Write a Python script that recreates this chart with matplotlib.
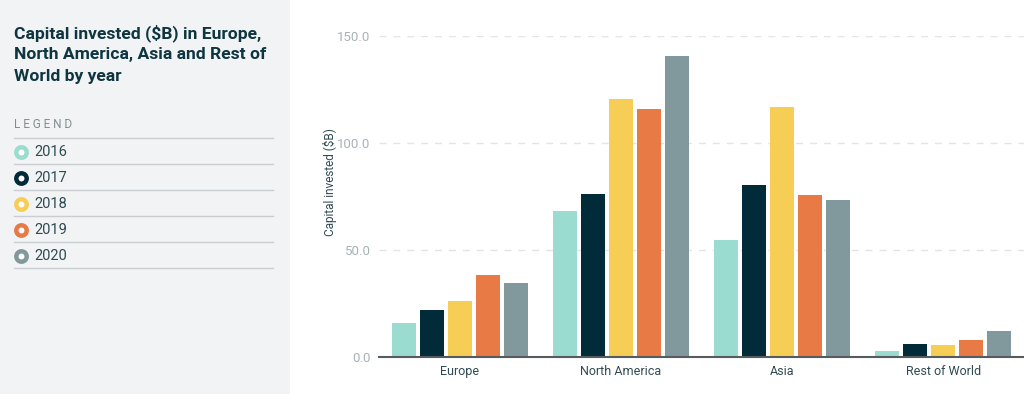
import matplotlib.pyplot as plt
import matplotlib.patches as mpatches
import numpy as np

regions = ["Europe", "North America", "Asia", "Rest of World"]
years = ["2016", "2017", "2018", "2019", "2020"]
values = {
    "2016": [15.9, 68.2, 54.5, 2.7],
    "2017": [22.1, 76.2, 80.5, 5.9],
    "2018": [26.0, 120.7, 117.0, 5.4],
    "2019": [38.2, 115.9, 75.7, 8.1],
    "2020": [34.4, 140.8, 73.5, 12.3],
}
colors = ["#9addd0", "#022b3a", "#f6ce55", "#e87a45", "#81989c"]
yticks = [0, 50, 100, 150]

W, H = 1024, 394
fig = plt.figure(figsize=(W / 100, H / 100), dpi=100)
fig.patch.set_facecolor("white")

def fx(px):
  return px / W

def fy(py):
  return 1 - py / H

# left panel background
fig.patches.append(mpatches.Rectangle((0, 0), fx(290), 1, transform=fig.transFigure,
                                      facecolor="#f2f3f5", edgecolor="none", zorder=0))

title_col = "#0f3640"
for i, line in enumerate(["Capital invested ($B) in Europe,",
                          "North America, Asia and Rest of",
                          "World by year"]):
  fig.text(fx(14), fy(33 + i * 22), line, fontsize=12.6, fontweight="bold",
           family="Roboto", color=title_col, va="center", ha="left")

fig.text(fx(14), fy(125), "L E G E N D", fontsize=8.5, color="#7f8e92",
         family="Roboto", va="center", ha="left")

for k in range(6):
  yy = fy(138 + k * 26)
  fig.add_artist(plt.Line2D([fx(14), fx(273)], [yy, yy], transform=fig.transFigure,
                            color="#c9ced2", lw=1))

for k, (yr, c) in enumerate(zip(years, colors)):
  yy = fy(151.5 + k * 26)
  fig.add_artist(plt.Line2D([fx(20.5)], [yy], transform=fig.transFigure, marker="o",
                            markersize=7.5, markerfacecolor="white", markeredgecolor=c,
                            markeredgewidth=3.2, linestyle="none"))
  fig.text(fx(34), yy, yr, fontsize=10.5, color="#2f4a52", family="Roboto",
           va="center", ha="left")

# chart
ax = fig.add_axes([fx(379), fy(357), fx(1024 - 379), (357 - 36) / H])
x = np.arange(len(regions))
step = 28 / 161
width = 24 / 161
for i, (yr, c) in enumerate(zip(years, colors)):
  ax.bar(x + (i - 2) * step, values[yr], width=width, color=c, zorder=3)

ax.set_xlim(-0.5, 3.5)
ax.set_ylim(0, 150)
ax.set_yticks(yticks)
ax.set_yticklabels([f"{v:.1f}" for v in yticks], family="Roboto", fontsize=9.5,
                   color="#a7b3b7")
ax.set_xticks(x)
ax.set_xticklabels(regions, family="Roboto", fontsize=9, color="#2f4a52")
ax.tick_params(axis="both", length=0)
ax.tick_params(axis="y", pad=6)
ax.tick_params(axis="x", pad=6)
for s in ["top", "right", "left"]:
  ax.spines[s].set_visible(False)
ax.spines["bottom"].set_color("#555b5e")
ax.spines["bottom"].set_linewidth(1.5)
ax.spines["bottom"].set_zorder(4)
ax.grid(axis="y", linestyle=(0, (5, 5)), color="#e2e4e6", lw=1, zorder=0)
ax.set_facecolor("white")
for yl in ax.get_ygridlines()[:1]:
  yl.set_visible(False)

fig.text(fx(330), fy(182), "Capital invested ($B)", rotation=90, fontsize=8.5,
         family="Roboto", color="#2f4a52", va="center", ha="center")

fig.savefig("out.png", dpi=100)
